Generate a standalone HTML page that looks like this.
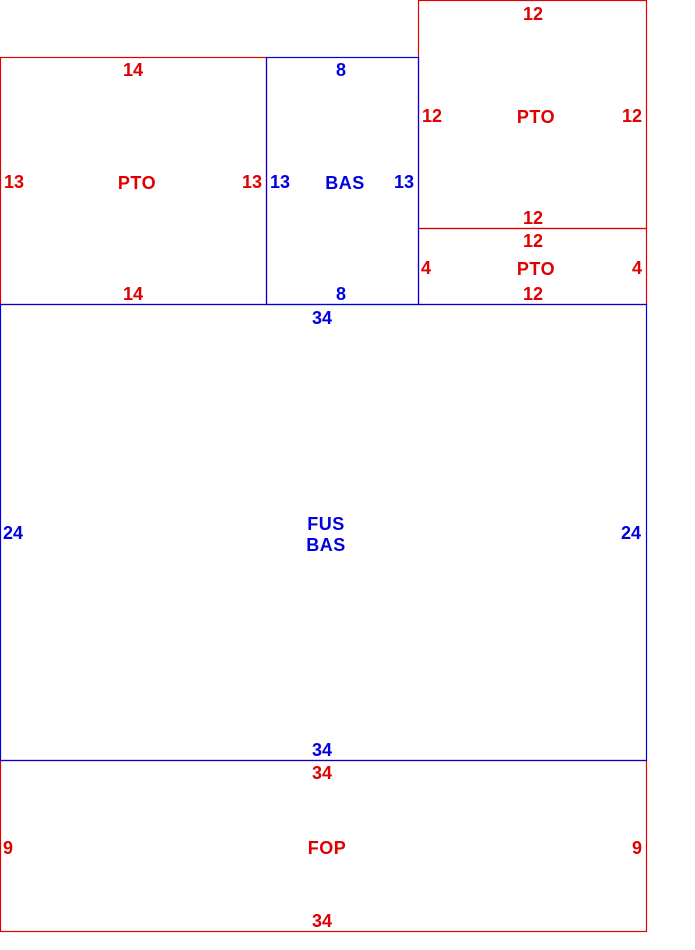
<!DOCTYPE html>
<html><head><style>
html,body{margin:0;padding:0;background:#fff;width:695px;height:950px;overflow:hidden}
svg{display:block}
text{font-family:"Liberation Sans",Arial,sans-serif;text-anchor:middle;dominant-baseline:central}
.n{font-size:18px;font-weight:bold}
.l{font-size:18px;font-weight:bold;letter-spacing:0.5px}
.r{fill:#e00000}.b{fill:#0000e0}
</style></head><body>
<svg width="695" height="950" viewBox="0 0 695 950">
<g fill="none" stroke-width="1.2">
<rect x="418.5" y="0.5" width="228" height="228" stroke="#e00000"/>
<rect x="418.5" y="228.5" width="228" height="76" stroke="#e00000"/>
<rect x="0.5" y="57.5" width="266" height="247" stroke="#e00000"/>
<rect x="0.5" y="760.5" width="646" height="171" stroke="#e00000"/>
<rect x="266.5" y="57.5" width="152" height="247" stroke="#0000e0"/>
<rect x="0.5" y="304.5" width="646" height="456" stroke="#0000e0"/>
</g>
<g class="r">
<text class="n" x="533" y="14">12</text>
<text class="n" x="432" y="116">12</text>
<text class="l" x="536" y="117">PTO</text>
<text class="n" x="632" y="116">12</text>
<text class="n" x="533" y="218">12</text>
<text class="n" x="533" y="241">12</text>
<text class="n" x="426" y="268">4</text>
<text class="l" x="536" y="269">PTO</text>
<text class="n" x="637" y="268">4</text>
<text class="n" x="533" y="294">12</text>
<text class="n" x="133" y="70">14</text>
<text class="n" x="14" y="182">13</text>
<text class="l" x="137" y="183">PTO</text>
<text class="n" x="252" y="182">13</text>
<text class="n" x="133" y="294">14</text>
<text class="n" x="322" y="773">34</text>
<text class="n" x="8" y="848">9</text>
<text class="l" x="327" y="848">FOP</text>
<text class="n" x="637" y="848">9</text>
<text class="n" x="322" y="921">34</text>
</g>
<g class="b">
<text class="n" x="341" y="70">8</text>
<text class="n" x="280" y="182">13</text>
<text class="l" x="345" y="183">BAS</text>
<text class="n" x="404" y="182">13</text>
<text class="n" x="341" y="294">8</text>
<text class="n" x="322" y="318">34</text>
<text class="n" x="13" y="533">24</text>
<text class="l" x="326" y="524">FUS</text>
<text class="l" x="326" y="545">BAS</text>
<text class="n" x="631" y="533">24</text>
<text class="n" x="322" y="750">34</text>
</g>
</svg>
</body></html>
